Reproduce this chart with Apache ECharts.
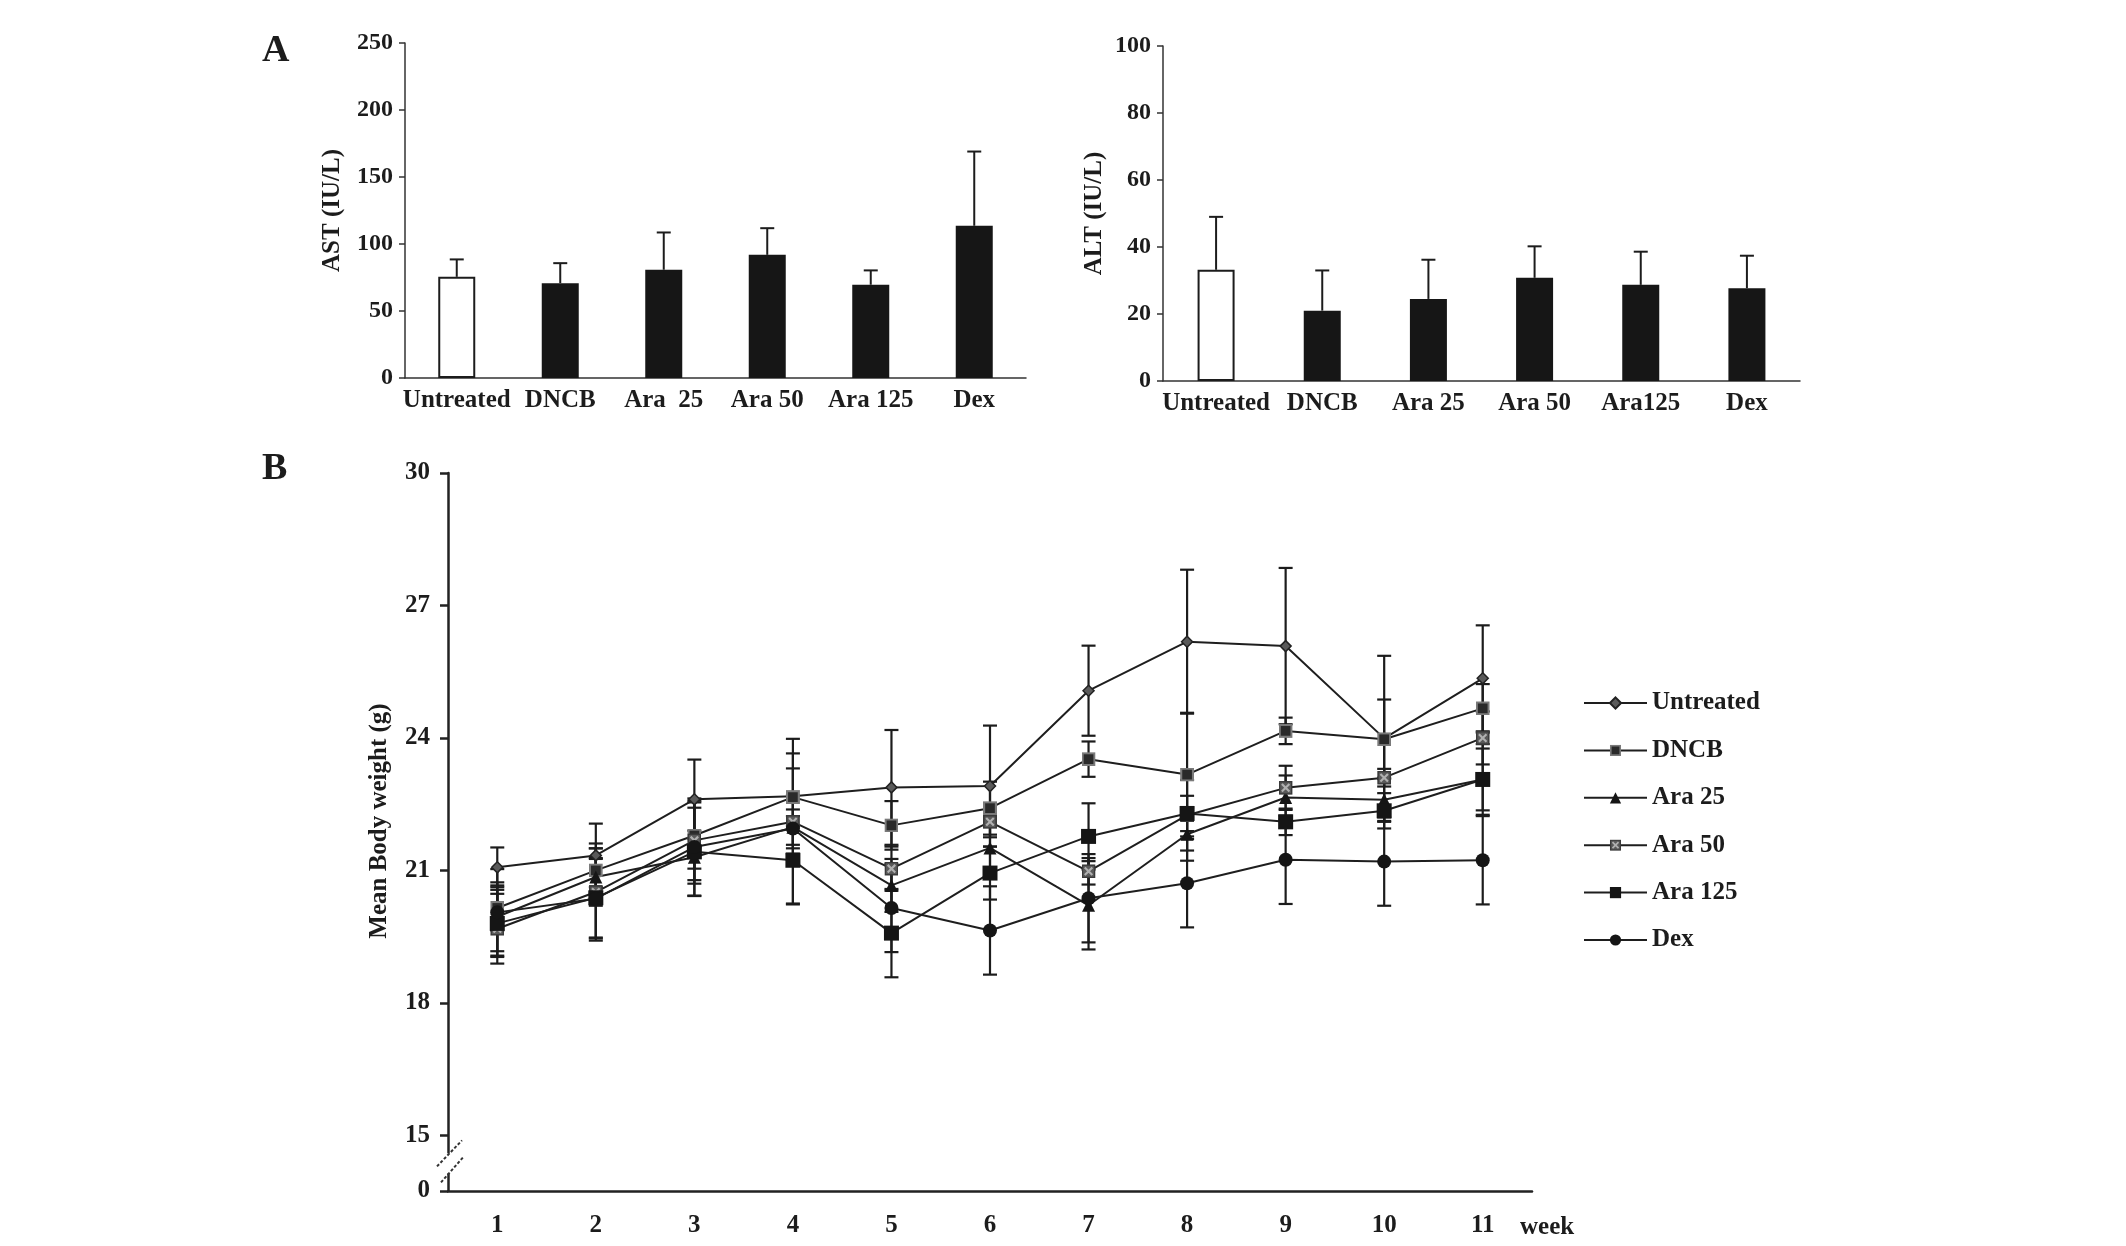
<!DOCTYPE html>
<html><head><meta charset="utf-8">
<script src="https://cdn.jsdelivr.net/npm/echarts@6/dist/echarts.min.js"></script>
<style>html,body{margin:0;padding:0;background:#fff}#c{width:2126px;height:1246px}</style>
</head><body><div id="c"></div>
<script>
// ---------- Panel A data ----------
const astCategories = ['Untreated', 'DNCB', 'Ara  25', 'Ara 50', 'Ara 125', 'Dex'];
const astMean = [75.5, 70.8, 80.8, 91.9, 69.6, 113.6];
const astSD = [13.0, 14.9, 27.8, 19.9, 10.7, 55.4];
const altCategories = ['Untreated', 'DNCB', 'Ara 25', 'Ara 50', 'Ara125', 'Dex'];
const altMean = [33.2, 21.0, 24.5, 30.8, 28.7, 27.7];
const altSD = [15.8, 12.0, 11.7, 9.4, 9.9, 9.7];

// ---------- Panel B data ----------
const weeks = ['1', '2', '3', '4', '5', '6', '7', '8', '9', '10', '11'];
const groupNames = ['Untreated', 'DNCB', 'Ara 25', 'Ara 50', 'Ara 125', 'Dex'];
const wUntreated = [21.07, 21.34, 22.61, 22.68, 22.88, 22.91, 25.07, 26.18, 26.08, 23.99, 25.35];
const wDNCB      = [20.15, 21.00, 21.79, 22.66, 22.02, 22.41, 23.52, 23.17, 24.16, 23.97, 24.67];
const wAra25     = [19.95, 20.85, 21.30, 21.98, 20.66, 21.51, 20.21, 21.82, 22.65, 22.60, 23.06];
const wAra50     = [19.68, 20.51, 21.68, 22.10, 21.04, 22.10, 20.98, 22.25, 22.87, 23.10, 24.00];
const wAra125    = [19.80, 20.38, 21.42, 21.23, 19.58, 20.94, 21.77, 22.29, 22.10, 22.35, 23.06];
const wDex       = [20.05, 20.36, 21.53, 21.95, 20.15, 19.64, 20.37, 20.71, 21.24, 21.20, 21.23];
const sdUntreated = [0.45, 0.72, 0.90, 1.30, 1.30, 1.37, 1.02, 1.63, 1.77, 1.87, 1.20];
const sdDNCB      = [0.51, 0.50, 0.75, 0.65, 0.55, 0.60, 0.40, 1.40, 0.30, 0.90, 0.55];
const sdAra25     = [0.78, 0.65, 0.60, 0.40, 0.60, 0.60, 1.00, 0.60, 0.50, 0.50, 0.70];
const sdAra50     = [0.79, 1.10, 0.90, 0.60, 0.50, 0.35, 0.30, 0.80, 0.50, 0.20, 0.60];
const sdAra125    = [0.76, 0.90, 1.00, 1.00, 1.00, 0.60, 0.75, 0.40, 0.30, 0.40, 0.80];
const sdDex       = [0.98, 0.90, 1.10, 1.70, 1.00, 1.00, 1.00, 1.00, 1.00, 1.00, 1.00];
const bTickValues = [13.74, 15, 18, 21, 24, 27, 30];
const bTickLabels = ['0', '15', '18', '21', '24', '27', '30'];

const means = [wUntreated, wDNCB, wAra25, wAra50, wAra125, wDex];
const sds = [sdUntreated, sdDNCB, sdAra25, sdAra50, sdAra125, sdDex];

const FONT = "'Liberation Serif','Times New Roman',serif";
const INK = '#1c1c1c';

function svgImg(svg) { return 'image://data:image/svg+xml;charset=utf-8,' + encodeURIComponent(svg); }
const symDNCB = svgImg("<svg xmlns='http://www.w3.org/2000/svg' width='26' height='26'><rect x='2' y='2' width='22' height='22' fill='#2a2a2a' stroke='#7a7a7a' stroke-width='4'/></svg>");
const symAra50 = svgImg("<svg xmlns='http://www.w3.org/2000/svg' width='26' height='26'><rect x='1.5' y='1.5' width='23' height='23' fill='#5a5a5a' stroke='#3a3a3a' stroke-width='3'/><path d='M6,6L20,20M20,6L6,20' stroke='#b0b0b0' stroke-width='4'/></svg>");

const symbolDefs = [
  { symbol: 'diamond', size: 11, color: '#5a5a5a', border: '#222', bw: 1.5 },
  { symbol: symDNCB, size: 14, color: '#2a2a2a', border: '#2a2a2a', bw: 0 },
  { symbol: 'triangle', size: 13, color: '#151515', border: '#151515', bw: 0 },
  { symbol: symAra50, size: 14, color: '#5a5a5a', border: '#5a5a5a', bw: 0 },
  { symbol: 'rect', size: 15, color: '#151515', border: '#151515', bw: 0 },
  { symbol: 'circle', size: 14, color: '#151515', border: '#151515', bw: 0 }
];

function errBar(both, halfCap, lw) {
  return function (params, api) {
    const x = api.value(0), m = api.value(1), sd = api.value(2);
    const top = api.coord([x, m + sd]);
    const bot = api.coord(both ? [x, m - sd] : [x, m]);
    const ch = [
      { type: 'line', shape: { x1: top[0], y1: top[1], x2: bot[0], y2: bot[1] }, style: { stroke: INK, lineWidth: lw } },
      { type: 'line', shape: { x1: top[0] - halfCap, y1: top[1], x2: top[0] + halfCap, y2: top[1] }, style: { stroke: INK, lineWidth: lw } }
    ];
    if (both) ch.push({ type: 'line', shape: { x1: bot[0] - halfCap, y1: bot[1], x2: bot[0] + halfCap, y2: bot[1] }, style: { stroke: INK, lineWidth: lw } });
    return { type: 'group', children: ch };
  };
}

function barData(vals) {
  return vals.map((v, i) => i === 0
    ? { value: v, itemStyle: { color: '#ffffff', borderColor: INK, borderWidth: 2 } }
    : { value: v, itemStyle: { color: '#161616' } });
}

const axisText = (size) => ({ fontFamily: FONT, fontWeight: 'bold', fontSize: size, color: INK });

const option = {
  animation: false,
  backgroundColor: '#fff',
  grid: [
    { left: 405, top: 43, width: 621, height: 335 },
    { left: 1163, top: 46, width: 637, height: 335 },
    { left: 448, top: 473, width: 1084, height: 718 }
  ],
  xAxis: [
    { gridIndex: 0, type: 'category', data: astCategories,
      axisLine: { lineStyle: { color: '#333', width: 1.5 } },
      axisTick: { length: 6, lineStyle: { color: '#333', width: 1.5 } },
      axisLabel: Object.assign({ interval: 0, margin: 10 }, axisText(25)) },
    { gridIndex: 1, type: 'category', data: altCategories,
      axisLine: { lineStyle: { color: '#333', width: 1.5 } },
      axisTick: { length: 6, lineStyle: { color: '#333', width: 1.5 } },
      axisLabel: Object.assign({ interval: 0, margin: 10 }, axisText(25)) },
    { gridIndex: 2, type: 'category', data: weeks,
      axisLine: { lineStyle: { color: '#222', width: 2.5 } },
      axisTick: { length: 9, lineStyle: { color: '#222', width: 2.5 } },
      axisLabel: Object.assign({ interval: 0, margin: 22 }, axisText(25)),
      name: 'week', nameLocation: 'end', nameGap: -12,
      nameTextStyle: Object.assign({ align: 'left', verticalAlign: 'top', padding: [24, 0, 0, 0] }, axisText(25)) }
  ],
  yAxis: [
    { gridIndex: 0, type: 'value', min: 0, max: 250, interval: 50,
      axisLine: { show: true, lineStyle: { color: '#333', width: 1.5 } },
      axisTick: { show: true, length: 6, lineStyle: { color: '#333', width: 1.5 } },
      splitLine: { show: false },
      axisLabel: Object.assign({ margin: 12 }, axisText(24)),
      name: 'AST (IU/L)', nameLocation: 'middle', nameGap: 60, nameTextStyle: axisText(25) },
    { gridIndex: 1, type: 'value', min: 0, max: 100, interval: 20,
      axisLine: { show: true, lineStyle: { color: '#333', width: 1.5 } },
      axisTick: { show: true, length: 6, lineStyle: { color: '#333', width: 1.5 } },
      splitLine: { show: false },
      axisLabel: Object.assign({ margin: 12 }, axisText(24)),
      name: 'ALT (IU/L)', nameLocation: 'middle', nameGap: 56, nameTextStyle: axisText(25) },
    { gridIndex: 2, type: 'value', min: bTickValues[0], max: 30,
      axisLine: { show: true, lineStyle: { color: '#222', width: 2.5 } },
      axisTick: { show: true, length: 8, customValues: bTickValues, lineStyle: { color: '#222', width: 2.5 } },
      splitLine: { show: false },
      axisLabel: Object.assign({ margin: 18, customValues: bTickValues,
        formatter: (v) => { const i = bTickValues.findIndex(t => Math.abs(t - v) < 1e-6); return i >= 0 ? bTickLabels[i] : ''; } }, axisText(25)),
      name: 'Mean Body weight (g)', nameLocation: 'middle', nameGap: 56,
      nameTextStyle: Object.assign({ padding: [0, 0, 0, 22] }, axisText(25)) }
  ],
  legend: {
    orient: 'vertical', left: 1578, top: 685,
    itemWidth: 63, itemHeight: 14, itemGap: 21.4,
    data: groupNames,
    textStyle: Object.assign({ lineHeight: 26 }, axisText(25)),
    selectedMode: false
  },
  graphic: [
    { type: 'text', left: 262, top: 32, style: { text: 'A', font: 'bold 38px ' + FONT, fill: INK } },
    { type: 'text', left: 262, top: 450, style: { text: 'B', font: 'bold 38px ' + FONT, fill: INK } }
  ],
  series: []
};

option.series.push({ type: 'bar', xAxisIndex: 0, yAxisIndex: 0, barWidth: 37, data: barData(astMean), z: 2 });
option.series.push({ type: 'custom', name: 'ast-err', xAxisIndex: 0, yAxisIndex: 0, renderItem: errBar(false, 7, 2),
  data: astMean.map((m, i) => [i, m, astSD[i]]), encode: { x: 0, y: 1 }, z: 3 });
option.series.push({ type: 'bar', xAxisIndex: 1, yAxisIndex: 1, barWidth: 37, data: barData(altMean), z: 2 });
option.series.push({ type: 'custom', name: 'alt-err', xAxisIndex: 1, yAxisIndex: 1, renderItem: errBar(false, 7, 2),
  data: altMean.map((m, i) => [i, m, altSD[i]]), encode: { x: 0, y: 1 }, z: 3 });

groupNames.forEach((name, g) => {
  option.series.push({ type: 'custom', name: name + '-err', xAxisIndex: 2, yAxisIndex: 2, renderItem: errBar(true, 7, 2.2),
    data: means[g].map((m, i) => [i, m, sds[g][i]]), encode: { x: 0, y: 1 }, z: 2 });
});
groupNames.forEach((name, g) => {
  const s = symbolDefs[g];
  option.series.push({
    type: 'line', name: name, xAxisIndex: 2, yAxisIndex: 2, data: means[g],
    symbol: s.symbol, symbolSize: s.size, showSymbol: true,
    lineStyle: { color: '#1e1e1e', width: 2 },
    itemStyle: { color: s.color, borderColor: s.border, borderWidth: s.bw },
    emphasis: { disabled: true }, z: 5
  });
});

const chart = echarts.init(document.getElementById('c'), null, { renderer: 'canvas' });
chart.setOption(option);

// axis-break marks on panel B's y axis
const p15 = chart.convertToPixel({ xAxisIndex: 2, yAxisIndex: 2 }, [0, 15]);
const ax = 448;
const y15 = p15[1];
chart.setOption({ graphic: option.graphic.concat([
  { type: 'rect', shape: { x: ax - 4, y: y15 + 18, width: 8, height: 20 }, style: { fill: '#fff' }, z: 100 },
  { type: 'line', shape: { x1: ax - 11, y1: y15 + 31, x2: ax + 14, y2: y15 + 5 }, style: { stroke: '#333', lineWidth: 2, lineDash: [3, 2] }, z: 101 },
  { type: 'line', shape: { x1: ax - 7, y1: y15 + 47, x2: ax + 15, y2: y15 + 22 }, style: { stroke: '#333', lineWidth: 2, lineDash: [3, 2] }, z: 101 }
]) });
</script>
</body></html>
